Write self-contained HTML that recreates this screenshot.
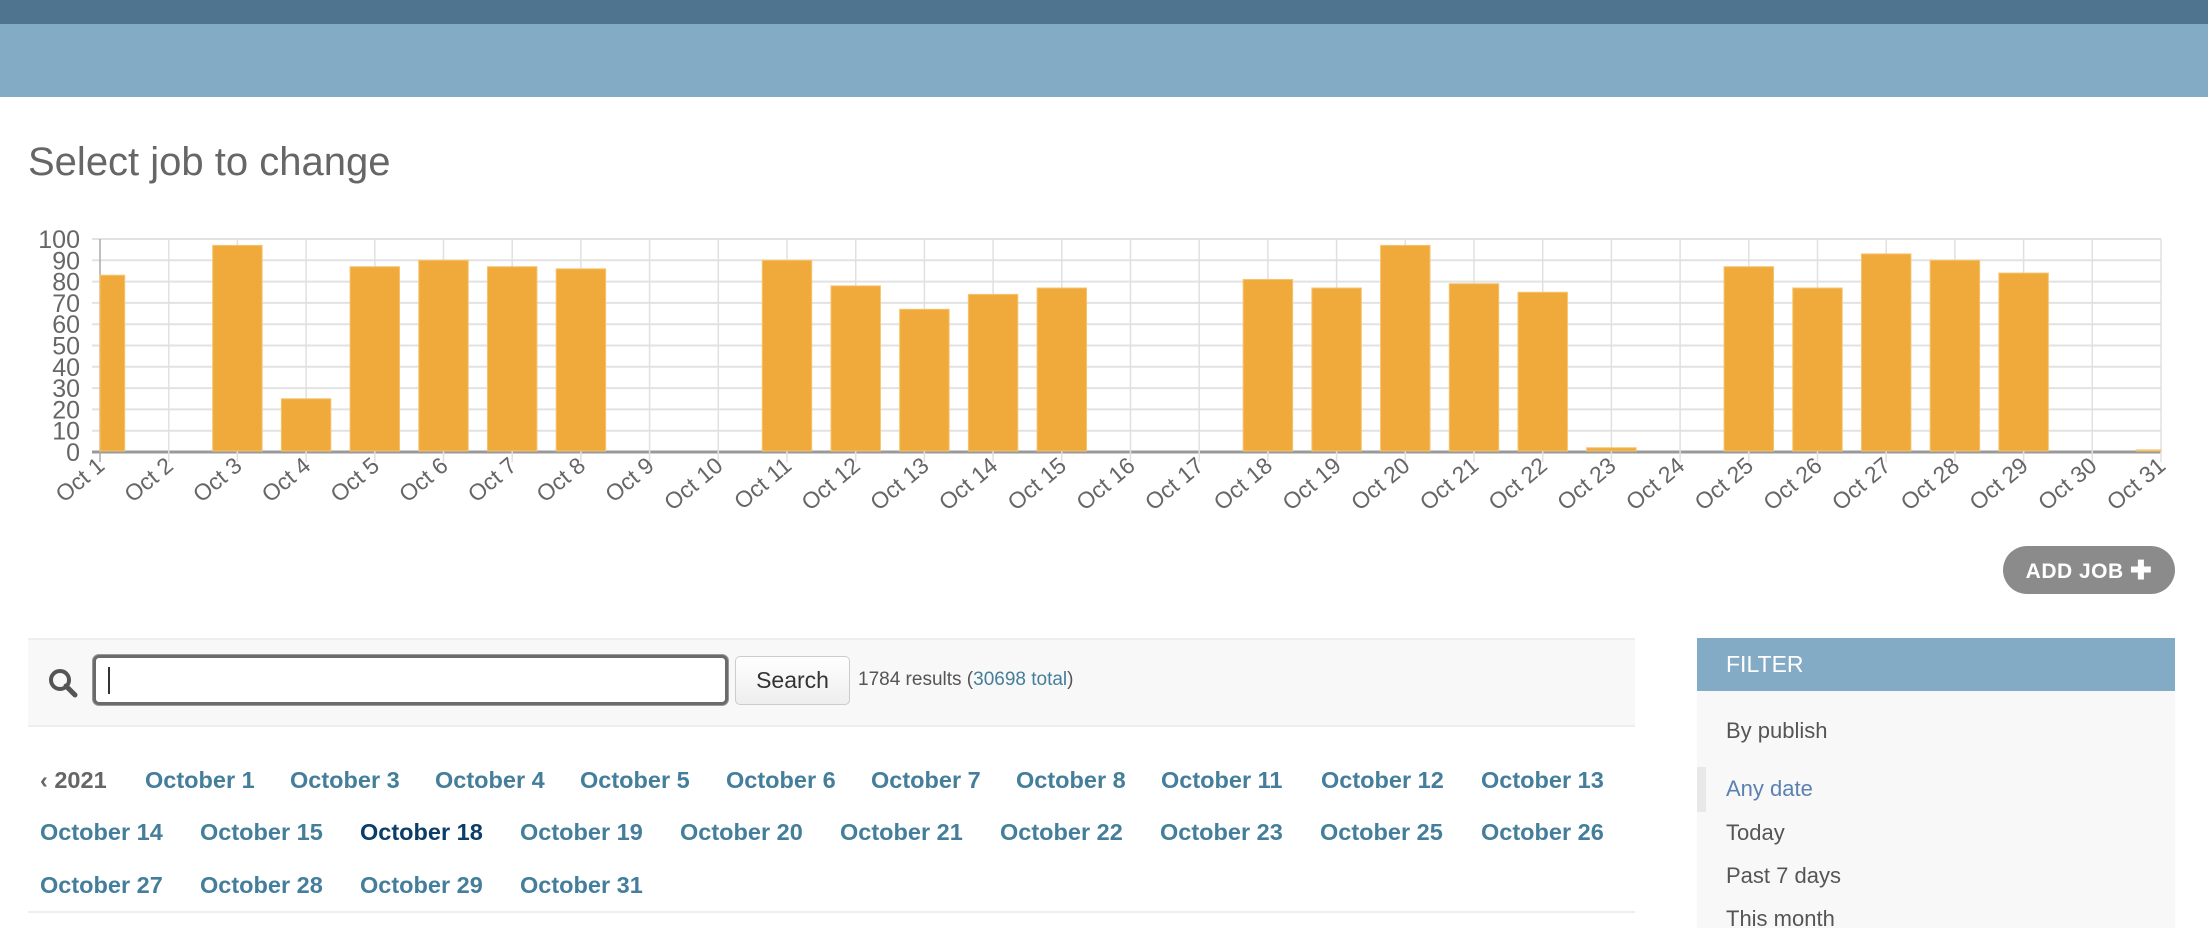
<!DOCTYPE html>
<html><head><meta charset="utf-8"><style>
body{margin:0;width:2208px;height:928px;overflow:hidden;background:#fff;font-family:"Liberation Sans",sans-serif;position:relative}
.abs{position:absolute}
a{text-decoration:none}
.dh a,.dh span{position:absolute;font-weight:bold;font-size:23.5px;color:#447e9b;white-space:nowrap}
.flt{position:absolute;left:1726px;font-size:22px;color:#555}
</style></head><body>
<div class="abs" style="left:0;top:0;width:2208px;height:24px;background:#4f7490"></div>
<div class="abs" style="left:0;top:24px;width:2208px;height:73px;background:#84abc5"></div>
<div class="abs" style="left:28px;top:140px;font-size:40px;color:#666;font-weight:300">Select job to change</div>

<svg class="abs" style="left:0;top:220px" width="2208" height="300" viewBox="0 220 2208 300">
<g id="grid"></g><g id="bars"></g><g id="ylab"></g><g id="xlab"></g>
</svg>

<div class="abs" style="left:2003px;top:546px;width:172px;height:48px;border-radius:24px;background:#8b8b8b;color:#fff;font-size:21px;font-weight:bold;line-height:48px;text-align:center;letter-spacing:0.5px">ADD JOB <b style="font-size:26px;vertical-align:-1px">✚</b></div>

<div class="abs" style="left:28px;top:638px;width:1607px;height:85px;background:#f8f8f8;border-top:2px solid #eee;border-bottom:2px solid #eee"></div>
<svg class="abs" style="left:48px;top:668px" width="30" height="30" viewBox="0 0 30 30"><circle cx="12" cy="12" r="9" fill="none" stroke="#555" stroke-width="4"/><line x1="18" y1="18" x2="27" y2="27" stroke="#555" stroke-width="5" stroke-linecap="round"/></svg>
<div class="abs" style="left:93px;top:655px;width:629px;height:44px;border:3px solid #6b6b6b;border-radius:6px;background:#fff;box-shadow:0 0 0 1px #999"><div style="position:absolute;left:12px;top:9px;width:2px;height:27px;background:#333"></div></div>
<div class="abs" style="left:735px;top:656px;width:113px;height:47px;border:1px solid #ccc;border-radius:5px;background:linear-gradient(#fff,#eee);font-size:23px;line-height:47px;text-align:center;color:#333">Search</div>
<div class="abs" style="left:858px;top:669px;font-size:19px;color:#555">1784 results (<a style="color:#447e9b">30698 total</a>)</div>

<div class="dh">
<span style="left:40px;top:767px;color:#666">‹ 2021</span>
<a style="left:145px;top:767px">October 1</a>
<a style="left:290px;top:767px">October 3</a>
<a style="left:435px;top:767px">October 4</a>
<a style="left:580px;top:767px">October 5</a>
<a style="left:726px;top:767px">October 6</a>
<a style="left:871px;top:767px">October 7</a>
<a style="left:1016px;top:767px">October 8</a>
<a style="left:1161px;top:767px">October 11</a>
<a style="left:1321px;top:767px">October 12</a>
<a style="left:1481px;top:767px">October 13</a>
<a style="left:40px;top:819px">October 14</a>
<a style="left:200px;top:819px">October 15</a>
<a style="left:360px;top:819px;color:#0c3c68">October 18</a>
<a style="left:520px;top:819px">October 19</a>
<a style="left:680px;top:819px">October 20</a>
<a style="left:840px;top:819px">October 21</a>
<a style="left:1000px;top:819px">October 22</a>
<a style="left:1160px;top:819px">October 23</a>
<a style="left:1320px;top:819px">October 25</a>
<a style="left:1481px;top:819px">October 26</a>
<a style="left:40px;top:872px">October 27</a>
<a style="left:200px;top:872px">October 28</a>
<a style="left:360px;top:872px">October 29</a>
<a style="left:520px;top:872px">October 31</a>
</div>
<div class="abs" style="left:28px;top:911px;width:1607px;height:2px;background:#eee"></div>

<div class="abs" style="left:1697px;top:691px;width:478px;height:237px;background:#f8f8f8"></div>
<div class="abs" style="left:1697px;top:638px;width:478px;height:53px;background:#84abc5;color:#fff;font-size:23px;line-height:53px"><span style="margin-left:29px">FILTER</span></div>
<div class="flt" style="top:718px">By publish</div>
<div class="abs" style="left:1697px;top:767px;width:9px;height:45px;background:#e8e8e8"></div>
<div class="flt" style="top:776px;color:#5b80b2">Any date</div>
<div class="flt" style="top:820px">Today</div>
<div class="flt" style="top:863px">Past 7 days</div>
<div class="flt" style="top:906px">This month</div>

<script>
const categories=["Oct 1","Oct 2","Oct 3","Oct 4","Oct 5","Oct 6","Oct 7","Oct 8","Oct 9","Oct 10","Oct 11","Oct 12","Oct 13","Oct 14","Oct 15","Oct 16","Oct 17","Oct 18","Oct 19","Oct 20","Oct 21","Oct 22","Oct 23","Oct 24","Oct 25","Oct 26","Oct 27","Oct 28","Oct 29","Oct 30","Oct 31"];
const jobCounts=[83,0,97,25,87,90,87,86,0,0,90,78,67,74,77,0,0,81,77,97,79,75,2,0,87,77,93,90,84,0,1];
const yTicks=[0,10,20,30,40,50,60,70,80,90,100];
const NS="http://www.w3.org/2000/svg";
const L=100,R=2161,T=239,B=452,YMAX=100;
const step=(R-L)/(categories.length-1);
function xs(i){return L+i*step;}
function ys(v){return B-(v/YMAX)*(B-T);}
function mk(tag,attrs,parent){const e=document.createElementNS(NS,tag);for(const k in attrs)e.setAttribute(k,attrs[k]);parent.appendChild(e);return e;}
const grid=document.getElementById('grid'),bars=document.getElementById('bars'),yl=document.getElementById('ylab'),xl=document.getElementById('xlab');
yTicks.forEach(t=>{
  const ln=mk('line',{x1:L-8,x2:R,y1:ys(t),y2:ys(t),stroke:t===0?'#999':'#e2e2e2','stroke-width':t===0?3:2},grid);
  
  
  const tx=mk('text',{x:L-20,y:ys(t)+9,'text-anchor':'end','font-size':25,fill:'#666','font-family':'Liberation Sans, sans-serif'},yl);
  tx.textContent=t;
  
  
});
categories.forEach((c,i)=>{
  const x=xs(i);
  const ln=mk('line',{x1:x,x2:x,y1:T,y2:B+10,stroke:i===0?'#aaa':'#e0e0e0','stroke-width':1.5},grid);
  
  
  const tx=mk('text',{x:0,y:0,'text-anchor':'end','font-size':23,fill:'#666','font-family':'Liberation Sans, sans-serif',transform:`translate(${x+6},${B+16}) rotate(-40)`},xl);
  tx.textContent=c;
  
  
});
const bw=step*0.72;
jobCounts.forEach((v,i)=>{
  if(v<=0)return;
  let x0=xs(i)-bw/2,x1=xs(i)+bw/2;
  x0=Math.max(x0,L);x1=Math.min(x1,R);
  const r=mk('rect',{x:x0,y:ys(v),width:x1-x0,height:B-ys(v)-1,fill:'#f0a93b',stroke:'#f5c56f','stroke-width':1},bars);
  
  
});
</script>
</body></html>
